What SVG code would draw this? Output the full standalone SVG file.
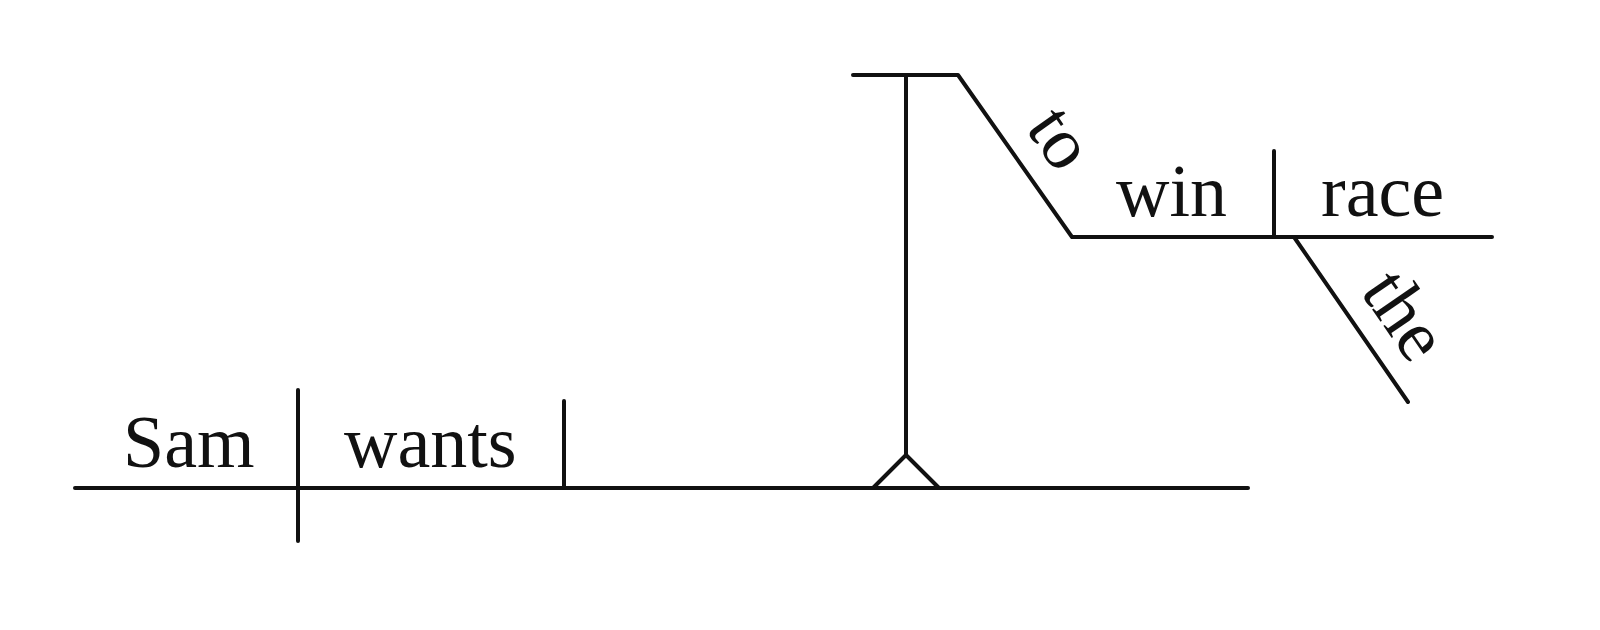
<svg xmlns="http://www.w3.org/2000/svg" width="1600" height="630" viewBox="0 0 1600 630">
<style>
.l{stroke:#111;stroke-width:4;fill:none;stroke-linecap:round;stroke-linejoin:round}
.t{font-family:"Liberation Serif","Times New Roman",serif;font-size:74px;fill:#111}
</style>
<rect width="1600" height="630" fill="#fff"/>
<g id="connectors">
<line class="l" x1="75" y1="488" x2="1248" y2="488"/>
<line class="l" x1="298" y1="390" x2="298" y2="541"/>
<line class="l" x1="564" y1="401" x2="564" y2="488"/>
<line class="l" x1="906" y1="75" x2="906" y2="455"/>
<polyline class="l" points="873,488 906,455 939,488"/>
<polyline class="l" points="853,75 958,75 1072,237 1492,237"/>
<line class="l" x1="1274" y1="151" x2="1274" y2="237"/>
<line class="l" x1="1294" y1="237" x2="1408" y2="402"/>
</g>
<g id="sam"><text class="t" x="123" y="467">Sam</text></g>
<g id="wants"><text class="t" x="344" y="467">wants</text></g>
<g id="to"><text class="t" transform="translate(958,75) rotate(54.9)" x="82" y="-24">to</text></g>
<g id="win"><text class="t" x="1116" y="216">win</text></g>
<g id="race"><text class="t" x="1321" y="216">race</text></g>
<g id="the"><text class="t" transform="translate(1294,237) rotate(55.4)" x="82" y="-23">the</text></g>
</svg>
